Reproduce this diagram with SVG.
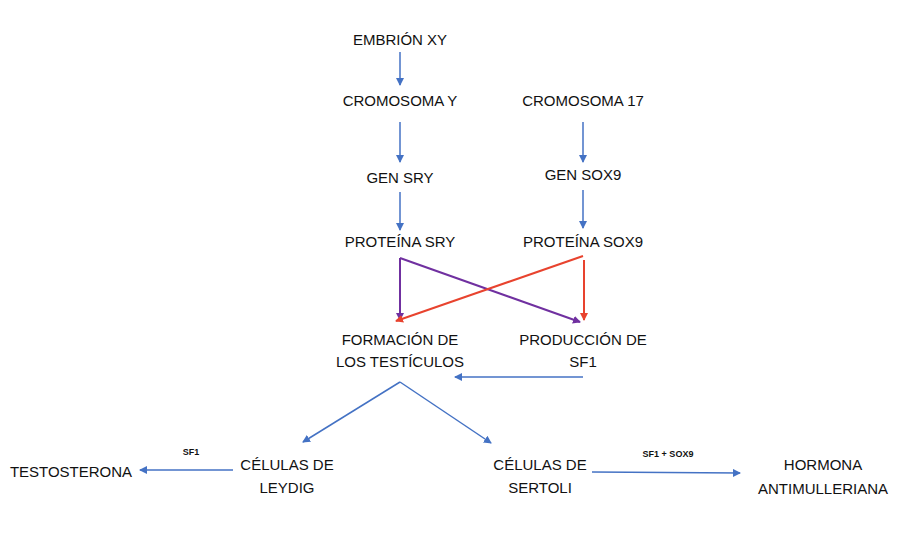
<svg xmlns="http://www.w3.org/2000/svg" width="923" height="538" viewBox="0 0 923 538">
<style>
text{font-family:"Liberation Sans",Arial,sans-serif;font-size:15px;fill:#111;text-anchor:middle}
.s{font-size:9px;font-weight:bold}
.b{stroke:#4472c4;stroke-width:1.5;fill:none;marker-end:url(#ab)}
.p{stroke:#7030a0;stroke-width:2;fill:none;marker-end:url(#ap)}
.r{stroke:#e8432e;stroke-width:2;fill:none;marker-end:url(#ar)}
</style>
<defs>
<marker id="ab" markerWidth="8" markerHeight="8" refX="7" refY="4" orient="auto" markerUnits="userSpaceOnUse"><path d="M0,0 L8,4 L0,8 z" fill="#4472c4"/></marker>
<marker id="ap" markerWidth="8" markerHeight="8" refX="7" refY="4" orient="auto" markerUnits="userSpaceOnUse"><path d="M0,0 L8,4 L0,8 z" fill="#7030a0"/></marker>
<marker id="ar" markerWidth="8" markerHeight="8" refX="7" refY="4" orient="auto" markerUnits="userSpaceOnUse"><path d="M0,0 L8,4 L0,8 z" fill="#e8432e"/></marker>
</defs>
<g id="connectors">
<line class="b" x1="400" y1="52" x2="400" y2="85"/>
<line class="b" x1="400" y1="122" x2="400" y2="162"/>
<line class="b" x1="583" y1="122" x2="583" y2="162"/>
<line class="b" x1="400" y1="192" x2="400" y2="230"/>
<line class="b" x1="583" y1="190" x2="583" y2="228"/>
<line class="p" x1="400" y1="258" x2="400" y2="320"/>
<line class="p" x1="400" y1="258" x2="580" y2="322"/>
<line class="r" x1="583" y1="256" x2="396" y2="321"/>
<line class="r" x1="584" y1="260" x2="584" y2="320"/>
<line class="b" x1="583" y1="377" x2="455" y2="377"/>
<line class="b" x1="400" y1="382" x2="303" y2="442"/>
<line class="b" x1="400" y1="382" x2="491" y2="443"/>
<line class="b" x1="233" y1="470" x2="140" y2="470"/>
<line class="b" x1="592" y1="472" x2="740" y2="473"/>
</g>
<g id="embrion"><text x="400" y="45">EMBRIÓN XY</text></g>
<g id="cromy"><text x="400" y="106">CROMOSOMA Y</text></g>
<g id="crom17"><text x="583" y="106">CROMOSOMA 17</text></g>
<g id="gensry"><text x="400" y="183">GEN SRY</text></g>
<g id="gensox9"><text x="583" y="180">GEN SOX9</text></g>
<g id="protsry"><text x="400" y="247">PROTEÍNA SRY</text></g>
<g id="protsox9"><text x="583" y="247">PROTEÍNA SOX9</text></g>
<g id="formacion"><text x="400" y="345">FORMACIÓN DE</text><text x="400" y="367">LOS TESTÍCULOS</text></g>
<g id="produccion"><text x="583" y="345">PRODUCCIÓN DE</text><text x="583" y="367">SF1</text></g>
<g id="leydig"><text x="287" y="470">CÉLULAS DE</text><text x="287" y="493">LEYDIG</text></g>
<g id="sertoli"><text x="540" y="470">CÉLULAS DE</text><text x="540" y="493">SERTOLI</text></g>
<g id="testosterona"><text x="71" y="477">TESTOSTERONA</text></g>
<g id="hormona"><text x="823" y="470">HORMONA</text><text x="823" y="494">ANTIMULLERIANA</text></g>
<g id="labels"><text class="s" x="191" y="455">SF1</text><text class="s" x="668" y="457">SF1 + SOX9</text></g>
</svg>
